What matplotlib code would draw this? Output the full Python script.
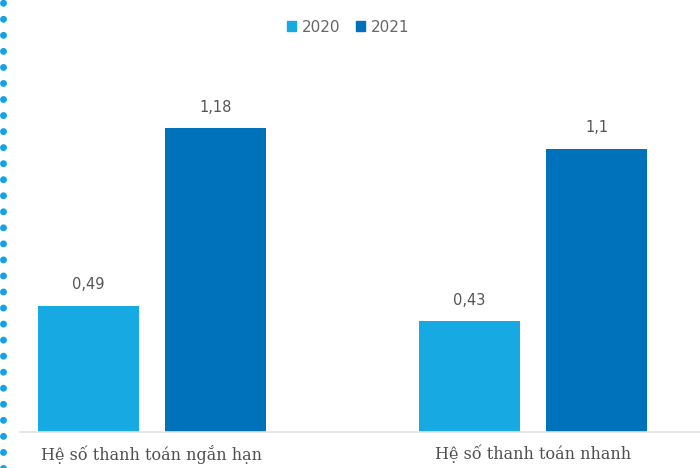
import numpy as np
import matplotlib.pyplot as plt
from matplotlib.lines import Line2D
from matplotlib.patches import Patch

# Data
categories = ['Hệ số thanh toán ngắn hạn', 'Hệ số thanh toán nhanh']
years = ['2020', '2021']
values_2020 = [0.49, 0.43]
values_2021 = [1.18, 1.1]
labels_2020 = ['0,49', '0,43']
labels_2021 = ['1,18', '1,1']

c2020 = '#17a9e1'
c2021 = '#0072bb'

fig = plt.figure(figsize=(7, 4.68), dpi=100)
ax = fig.add_axes([20 / 700, 36 / 468, 680 / 700, 432 / 468])

x = np.arange(len(categories))
w = 0.265
off = 0.1667
b1 = ax.bar(x - off, values_2020, w, color=c2020)
b2 = ax.bar(x + off, values_2021, w, color=c2021)

for bars, labs in [(b1, labels_2020), (b2, labels_2021)]:
    for b, t in zip(bars, labs):
        ax.annotate(t, (b.get_x() + b.get_width() / 2, b.get_height()),
                    xytext=(0, 15), textcoords='offset points',
                    ha='center', va='center', fontsize=10.5, color='#555555')

ax.set_xlim(-0.346, 1.438)
ax.set_ylim(0, 1.677)
ax.set_yticks([])
ax.set_xticks(x)
ax.set_xticklabels(categories, family='DejaVu Serif', fontsize=11.5, color='#505050')
ax.tick_params(axis='x', length=0, pad=9)
for s in ['top', 'right', 'left']:
    ax.spines[s].set_visible(False)
ax.spines['bottom'].set_color('#e3e3e3')
ax.spines['bottom'].set_linewidth(1.2)

# legend
handles = [Patch(color=c2020), Patch(color=c2021)]
fig.legend(handles, years, loc='center', bbox_to_anchor=(348 / 700, 1 - 27 / 468),
           ncol=2, frameon=False, fontsize=11, labelcolor='#666666',
           handlelength=0.6, handleheight=0.6, handletextpad=0.4, columnspacing=1.0)

# dotted decorative border on the left
fig.add_artist(Line2D([3 / 700, 3 / 700], [0, 1], transform=fig.transFigure,
                      color='#12a3e3', linewidth=5.0, linestyle=(0, (0.01, 2.3)),
                      dash_capstyle='round'))

fig.savefig('out.png', dpi=100)
